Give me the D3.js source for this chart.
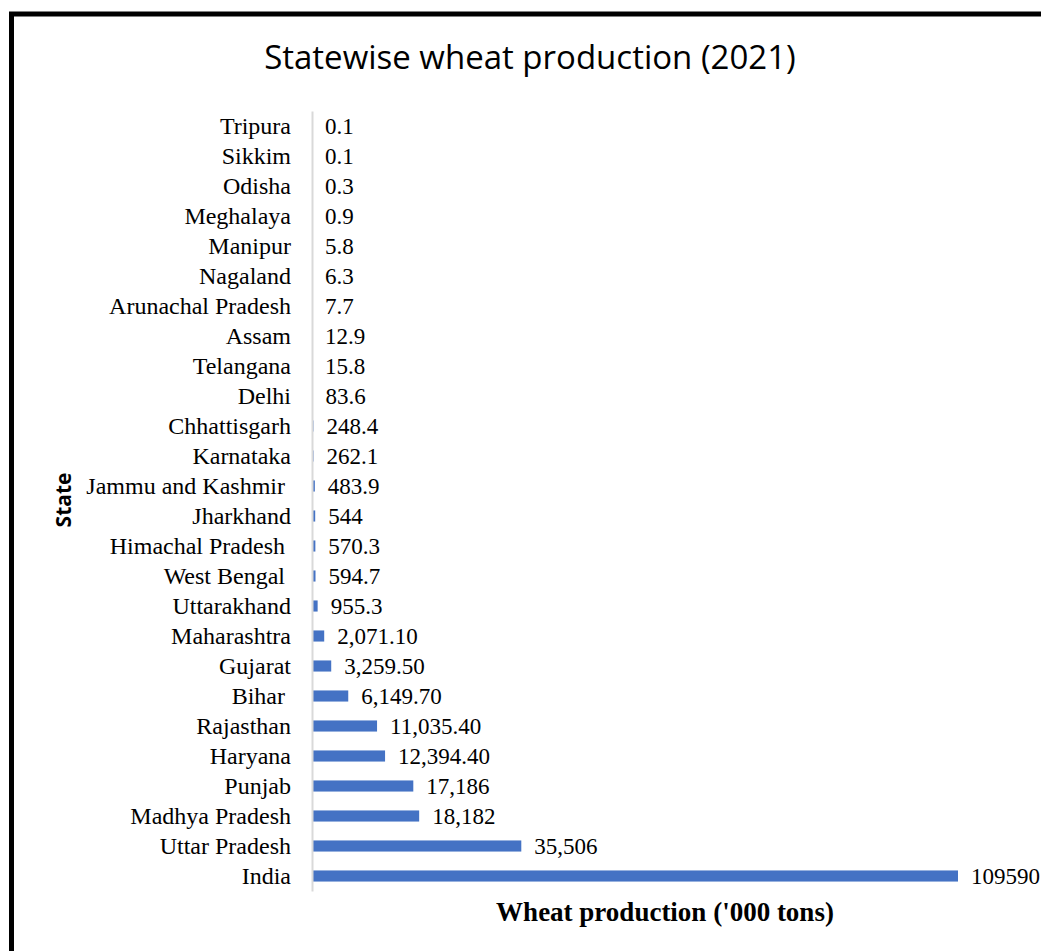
<!DOCTYPE html>
<html>
<head>
<meta charset="utf-8">
<script src="https://cdn.jsdelivr.net/npm/d3@7"></script>
<style>
  body { margin: 0; background: #fff; }
  svg { display: block; }
</style>
</head>
<body>
<script>
// states, top of the chart first
var states = ["Tripura", "Sikkim", "Odisha", "Meghalaya", "Manipur", "Nagaland",
  "Arunachal Pradesh", "Assam", "Telangana", "Delhi", "Chhattisgarh", "Karnataka",
  "Jammu and Kashmir ", "Jharkhand", "Himachal Pradesh ", "West Bengal ", "Uttarakhand",
  "Maharashtra", "Gujarat", "Bihar ", "Rajasthan", "Haryana", "Punjab",
  "Madhya Pradesh", "Uttar Pradesh", "India"];

var production = [0.1, 0.1, 0.3, 0.9, 5.8, 6.3, 7.7, 12.9, 15.8, 83.6, 248.4, 262.1,
  483.9, 544, 570.3, 594.7, 955.3, 2071.1, 3259.5, 6149.7, 11035.4, 12394.4, 17186,
  18182, 35506, 109590];

// labels as printed on the chart
var valueLabels = ["0.1", "0.1", "0.3", "0.9", "5.8", "6.3", "7.7", "12.9", "15.8", "83.6",
  "248.4", "262.1", "483.9", "544", "570.3", "594.7", "955.3", "2,071.10", "3,259.50",
  "6,149.70", "11,035.40", "12,394.40", "17,186", "18,182", "35,506", "109590"];

var data = states.map(function(s, i) {
  return {state: s, value: production[i], label: valueLabels[i]};
});

var W = 1041, H = 951;
var margin = {top: 111, left: 312};
var plotW = 646, plotH = 780;
var serif = "'Liberation Serif', 'Times New Roman', serif";

var svg = d3.select("body").append("svg")
    .attr("width", W)
    .attr("height", H);

svg.append("rect")
    .attr("x", 11.5).attr("y", 14)
    .attr("width", W + 20).attr("height", H + 20)
    .attr("fill", "none")
    .attr("stroke", "#000")
    .attr("stroke-width", 5);

svg.append("text")
    .attr("x", 530).attr("y", 69)
    .attr("text-anchor", "middle")
    .attr("font-family", "'Open Sans', sans-serif")
    .attr("font-size", "33px")
    .attr("fill", "#000")
    .text("Statewise wheat production (2021)");

var g = svg.append("g")
    .attr("transform", "translate(" + margin.left + "," + margin.top + ")");

var x = d3.scaleLinear().domain([0, 109590]).range([0, plotW]);
var y = d3.scaleBand().domain(states).range([0, plotH]).paddingInner(0.63).paddingOuter(0.315);

g.selectAll("rect.bar")
    .data(data)
  .enter().append("rect")
    .attr("class", "bar")
    .attr("x", 0)
    .attr("y", function(d) { return y(d.state); })
    .attr("width", function(d) { return x(d.value); })
    .attr("height", y.bandwidth())
    .attr("fill", "#4472C4");

g.selectAll("text.val")
    .data(data)
  .enter().append("text")
    .attr("class", "val")
    .attr("x", function(d) { return x(d.value) + 13; })
    .attr("y", function(d) { return y(d.state) + y.bandwidth() / 2; })
    .attr("dy", "0.35em")
    .attr("font-family", serif)
    .attr("font-size", "23px")
    .attr("fill", "#000")
    .text(function(d) { return d.label; });

var yAxis = g.append("g")
    .call(d3.axisLeft(y).tickSize(0).tickPadding(21));
yAxis.select(".domain").attr("stroke", "#d9d9d9").attr("stroke-width", 2);
yAxis.selectAll("text")
    .attr("font-family", serif)
    .attr("font-size", "24px")
    .attr("fill", "#000")
    .style("white-space", "pre");

svg.append("text")
    .attr("x", 665).attr("y", 921)
    .attr("text-anchor", "middle")
    .attr("font-family", serif)
    .attr("font-weight", "bold")
    .attr("font-size", "27px")
    .attr("fill", "#000")
    .text("Wheat production ('000 tons)");

svg.append("text")
    .attr("transform", "translate(71,500) rotate(-90)")
    .attr("text-anchor", "middle")
    .attr("font-family", "'Open Sans', sans-serif")
    .attr("font-weight", "bold")
    .attr("font-size", "21px")
    .attr("fill", "#000")
    .text("State");
</script>
</body>
</html>
